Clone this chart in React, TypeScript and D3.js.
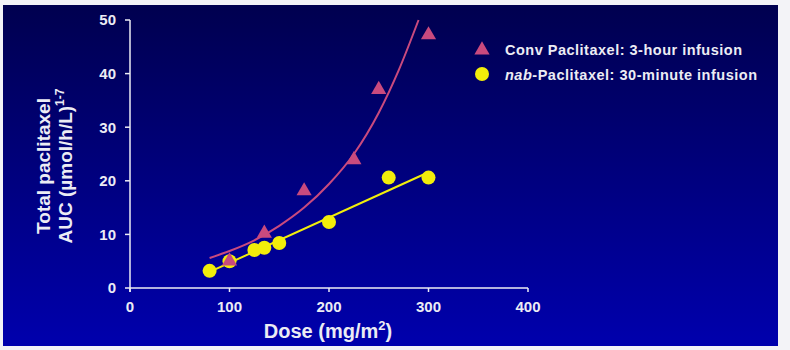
import React from "react";
import * as d3 from "d3";

const convDose = [100, 135, 175, 225, 250, 300];
const convAUC = [5.2, 10.4, 18.3, 24.1, 37.2, 47.4];
const nabDose = [80, 100, 125, 135, 150, 200, 260, 300];
const nabAUC = [3.2, 5.0, 7.1, 7.5, 8.4, 12.3, 20.6, 20.6];
// fitted curves
const convFitDose = [80, 100, 125, 150, 175, 200, 225, 250, 270, 290];
const convFitAUC = [5.6, 6.9, 8.9, 11.6, 15.0, 19.4, 25.0, 32.7, 40.6, 50];
const nabFitDose = [80, 300];
const nabFitAUC = [3.0, 21.6];
const xTicks = [0, 100, 200, 300, 400];
const yTicks = [0, 10, 20, 30, 40, 50];

const W = 790;
const H = 350;
const PINK = "#c94a7e";
const YELLOW = "#f2ee0a";
const TEXT = "#ececf4";
const FONT = "'Liberation Sans', Arial, sans-serif";

export default function App() {
  const x = d3.scaleLinear().domain([0, 400]).range([130, 528]);
  const y = d3.scaleLinear().domain([0, 50]).range([288, 20]);
  const line = d3
    .line<[number, number]>()
    .x((d) => x(d[0]))
    .y((d) => y(d[1]))
    .curve(d3.curveMonotoneX);
  const convFit = convFitDose.map((d, i) => [d, convFitAUC[i]] as [number, number]);
  const nabFit = nabFitDose.map((d, i) => [d, nabFitAUC[i]] as [number, number]);
  const tri = d3.symbol().type(d3.symbolTriangle).size(100)();
  return (
    <svg
      width={W}
      height={H}
      style={{ position: "absolute", left: 0, top: 0, display: "block" }}
      fontFamily={FONT}
    >
      <defs>
        <linearGradient id="bg" x1="0" y1="0" x2="0" y2="1">
          <stop offset="0" stopColor="#00004f" />
          <stop offset="1" stopColor="#0000ad" />
        </linearGradient>
      </defs>
      <rect x={0} y={0} width={W} height={H} fill="#f3f3f7" />
      <rect x={3} y={5} width={775} height={341} fill="url(#bg)" />

      {/* axes */}
      <line x1={x(0)} x2={x(0)} y1={y(50)} y2={y(0) + 4} stroke={TEXT} strokeWidth={1.5} />
      <line x1={x(0)} x2={x(400)} y1={y(0)} y2={y(0)} stroke={TEXT} strokeWidth={1.5} />
      {yTicks.map((t) => (
        <g key={"y" + t}>
          <line x1={x(0) - 5} x2={x(0)} y1={y(t)} y2={y(t)} stroke={TEXT} strokeWidth={1.5} />
          <text
            x={x(0) - 14}
            y={y(t)}
            dy="0.36em"
            textAnchor="end"
            fill={TEXT}
            fontSize={15}
            fontWeight="bold"
          >
            {t}
          </text>
        </g>
      ))}
      {xTicks.map((t) => (
        <g key={"x" + t}>
          <line x1={x(t)} x2={x(t)} y1={y(0)} y2={y(0) + 4} stroke={TEXT} strokeWidth={1.5} />
          <text
            x={x(t)}
            y={y(0) + 24}
            textAnchor="middle"
            fill={TEXT}
            fontSize={15}
            fontWeight="bold"
          >
            {t}
          </text>
        </g>
      ))}

      {/* axis titles */}
      <text x={328} y={338} textAnchor="middle" fill={TEXT} fontSize={20} fontWeight="bold">
        Dose (mg/m
        <tspan fontSize={13} dy={-8}>
          2
        </tspan>
        <tspan dy={8}>)</tspan>
      </text>
      <g transform="translate(50,166) rotate(-90)">
        <text x={0} y={0} textAnchor="middle" fill={TEXT} fontSize={19} fontWeight="bold">
          Total paclitaxel
        </text>
        <text x={0} y={22} textAnchor="middle" fill={TEXT} fontSize={19} fontWeight="bold">
          AUC (µmol/h/L)
          <tspan fontSize={12} dy={-8}>
            1-7
          </tspan>
        </text>
      </g>

      {/* fits */}
      <path d={line(nabFit) || ""} fill="none" stroke={YELLOW} strokeWidth={2} />
      <path d={line(convFit) || ""} fill="none" stroke={PINK} strokeWidth={2} />

      {/* points */}
      {nabDose.map((d, i) => (
        <circle key={"n" + i} cx={x(d)} cy={y(nabAUC[i])} r={7} fill={YELLOW} />
      ))}
      {convDose.map((d, i) => (
        <path
          key={"c" + i}
          d={tri || ""}
          transform={`translate(${x(d)},${y(convAUC[i]) + 1})`}
          fill={PINK}
        />
      ))}

      {/* legend */}
      <path d={tri || ""} transform="translate(482,50)" fill={PINK} />
      <circle cx={482} cy={74} r={7} fill={YELLOW} />
      <text x={505} y={55} fill={TEXT} fontSize={14.5} fontWeight="bold" textLength={237}>
        Conv Paclitaxel: 3-hour infusion
      </text>
      <text x={505} y={80} fill={TEXT} fontSize={14.5} fontWeight="bold" textLength={252}>
        <tspan fontStyle="italic">nab</tspan>-Paclitaxel: 30-minute infusion
      </text>
    </svg>
  );
}
